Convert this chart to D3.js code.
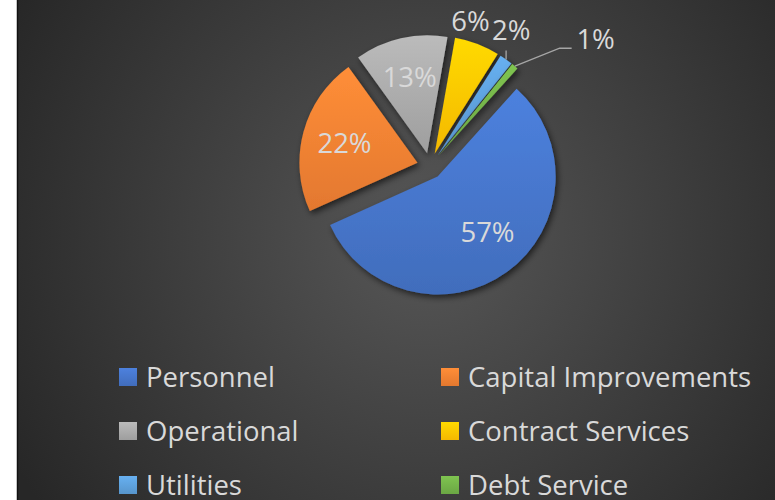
<!DOCTYPE html>
<html>
<head>
<meta charset="utf-8">
<script src="https://cdn.jsdelivr.net/npm/d3@7"></script>
<style>
  html, body { margin: 0; padding: 0; background: #fff; }
  svg { display: block; }
  text { font-variant-ligatures: none; }
</style>
</head>
<body>
<div class="chart"></div>
<script>
const categories = [
  "Personnel",
  "Capital Improvements",
  "Operational",
  "Contract Services",
  "Utilities",
  "Debt Service",
];
const values = [56.6, 21.8, 12.7, 6.2, 1.8, 0.9];
const colors = ["#4472C4", "#ED7D31", "#A5A5A5", "#FFC000", "#5B9BD5", "#70AD47"];

// label placement for the slices (radius factor, angle nudge in degrees)
const labelLayout = [
  { k: 0.63, da: -6 },
  { k: 0.64, da: 0 },
  { k: 0.66, da: 0 },
  { k: 1.165, da: -6 },
  { k: 1.23, da: -5 },
  { k: 1.66, da: 13 },
];

const totalWidth = 775,
  totalHeight = 500;
const cx = 430,
  cy = 166,
  radius = 118,
  explode = 13;
const deg = Math.PI / 180;
const textColor = "#d9d9d9";
const font = "'Open Sans', Lato, sans-serif";
const fontSize = 27.5;

const svg = d3
  .select(".chart")
  .append("svg")
  .attr("width", totalWidth)
  .attr("height", totalHeight);

const defs = svg.append("defs");

const bg = defs
  .append("radialGradient")
  .attr("id", "bg")
  .attr("gradientUnits", "userSpaceOnUse")
  .attr("cx", 425)
  .attr("cy", 235)
  .attr("r", 470);
bg.append("stop").attr("offset", "0%").attr("stop-color", "#575757");
bg.append("stop").attr("offset", "100%").attr("stop-color", "#272727");

const shadow = defs
  .append("filter")
  .attr("id", "shadow")
  .attr("x", "-30%")
  .attr("y", "-30%")
  .attr("width", "160%")
  .attr("height", "160%");
shadow
  .append("feDropShadow")
  .attr("dx", 2)
  .attr("dy", 3)
  .attr("stdDeviation", 3)
  .attr("flood-color", "#000")
  .attr("flood-opacity", 0.6);

colors.forEach((c, i) => {
  const g = defs
    .append("linearGradient")
    .attr("id", "grad" + i)
    .attr("x1", 0)
    .attr("y1", 0)
    .attr("x2", 0)
    .attr("y2", 1);
  g.append("stop").attr("offset", "0%").attr("stop-color", d3.color(c).brighter(0.35));
  g.append("stop").attr("offset", "100%").attr("stop-color", d3.color(c).darker(0.12));
});

// chart area
svg
  .append("rect")
  .attr("x", 17.5)
  .attr("y", -5)
  .attr("width", 800)
  .attr("height", 520)
  .attr("fill", "url(#bg)")
  .attr("stroke", "#111")
  .attr("stroke-width", 1.5);

const pie = d3
  .pie()
  .sort(null)
  .value((d) => d)
  .startAngle(42 * deg)
  .endAngle(42 * deg + 2 * Math.PI);

const arcs = pie(values);
const arc = d3.arc().innerRadius(0).outerRadius(radius);

const mid = (d) => (d.startAngle + d.endAngle) / 2;
const polar = (a, r) => [r * Math.sin(a), -r * Math.cos(a)];

const pieGroup = svg.append("g").attr("transform", `translate(${cx}, ${cy})`);

pieGroup
  .selectAll("path")
  .data(arcs)
  .enter()
  .append("path")
  .attr("transform", (d) => {
    const [x, y] = polar(mid(d), explode);
    return `translate(${x}, ${y})`;
  })
  .attr("d", arc)
  .attr("fill", (d, i) => `url(#grad${i})`)
  .attr("filter", "url(#shadow)");

// data labels
const labelPos = arcs.map((d, i) => {
  const [tx, ty] = polar(mid(d), explode);
  const [lx, ly] = polar(mid(d) + labelLayout[i].da * deg, labelLayout[i].k * radius);
  return [tx + lx, ty + ly];
});

const pct = d3.format(".0%");
const total = d3.sum(values);

// leader lines for the two smallest slices
const line = d3.line();
arcs.forEach((d, i) => {
  if (labelLayout[i].k < 1.2) return;
  const [tx, ty] = polar(mid(d), explode);
  const [ox, oy] = polar(mid(d), radius);
  const start = [tx + ox, ty + oy];
  const [lx, ly] = labelPos[i];
  const pts =
    Math.abs(lx - start[0]) < 15
      ? [start, [start[0], ly + 20]]
      : [start, [lx - 36, ly + 9], [lx - 24, ly + 9]];
  pieGroup
    .append("path")
    .attr("d", line(pts))
    .attr("fill", "none")
    .attr("stroke", "#a6a6a6")
    .attr("stroke-width", 1.3);
});

pieGroup
  .selectAll("text")
  .data(arcs)
  .enter()
  .append("text")
  .attr("x", (d, i) => labelPos[i][0])
  .attr("y", (d, i) => labelPos[i][1])
  .attr("dy", "0.36em")
  .attr("text-anchor", "middle")
  .attr("font-family", font)
  .attr("font-size", fontSize)
  .attr("fill", textColor)
  .text((d) => pct(d.value / total));

// legend
const legend = svg
  .append("g")
  .selectAll("g")
  .data(categories)
  .enter()
  .append("g")
  .attr("transform", (d, i) => `translate(${[119, 441][i % 2]}, ${368 + Math.floor(i / 2) * 54})`);

legend
  .append("rect")
  .attr("width", 18)
  .attr("height", 18)
  .attr("fill", (d, i) => `url(#grad${i})`);

legend
  .append("text")
  .attr("x", 27)
  .attr("y", 19)
  .attr("font-family", font)
  .attr("font-size", fontSize)
  .attr("fill", textColor)
  .text((d) => d);
</script>
</body>
</html>
